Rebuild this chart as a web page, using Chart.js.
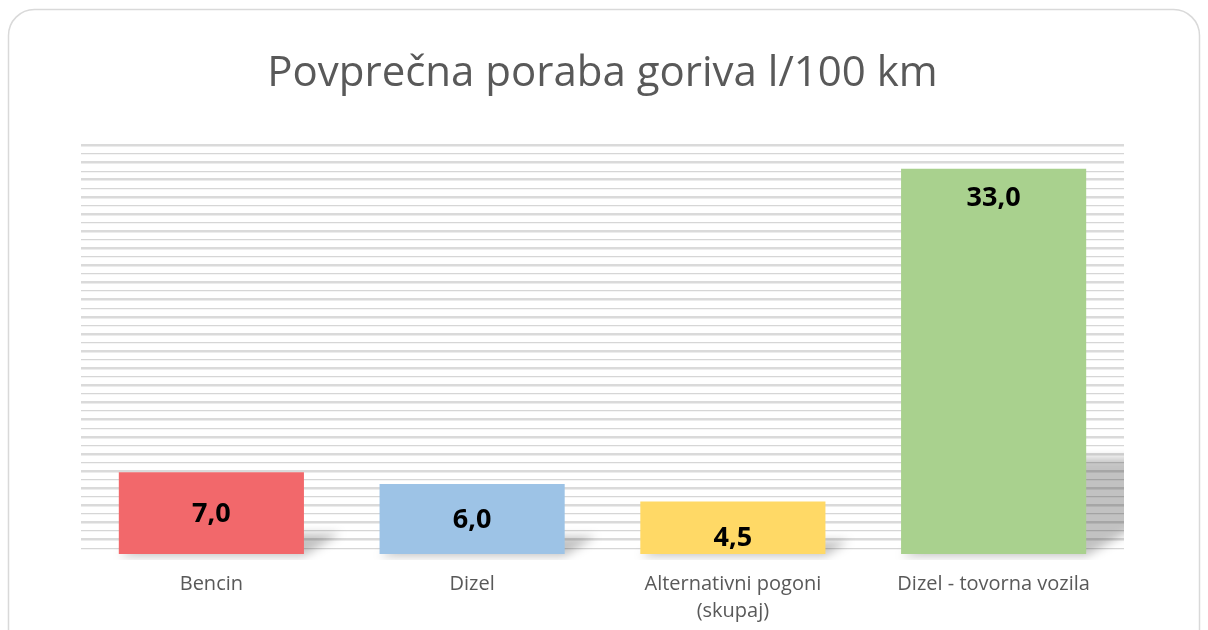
<!DOCTYPE html>
<html>
<head>
<meta charset="utf-8">
<script src="https://cdn.jsdelivr.net/npm/chart.js@4/dist/chart.umd.min.js"></script>
<style>
html,body{margin:0;padding:0;background:#fff;}
#wrap{width:1208px;height:630px;position:relative;}
</style>
</head>
<body>
<div id="wrap"><canvas id="c" width="1208" height="630"></canvas></div>
<script>
const TITLE = 'Povprečna poraba goriva l/100 km';
const categories = ['Bencin', 'Dizel', ['Alternativni pogoni', '(skupaj)'], 'Dizel - tovorna vozila'];
const values = [7.0, 6.0, 4.5, 33.0];
const barColors = ['#F2686B', '#9DC3E6', '#FFD966', '#A9D18E'];
const Y_MIN = 0;
const Y_MAX = 35;
const GRID_LINES = 48;          // decorative striped gridlines
const GRID_BOTTOM_VALUE = 0.5;
const labelOffsets = [42, 36, 37, 30]; // label centre distance below bar top (px)

const fmt = v => v.toFixed(1).replace('.', ',');

const frame = {
  id: 'frame',
  beforeDraw(chart) {
    const ctx = chart.ctx;
    ctx.save();
    ctx.fillStyle = '#fff';
    ctx.fillRect(0, 0, chart.width, chart.height);
    ctx.strokeStyle = '#d9d9d9';
    ctx.lineWidth = 1.5;
    const x = 8.5, y = 9.5, w = 1191, h = 700, r = 26;
    ctx.beginPath();
    ctx.roundRect(x, y, w, h, r);
    ctx.stroke();
    ctx.restore();
  }
};

const shadows = {
  id: 'shadows',
  beforeDatasetsDraw(chart) {
    const ctx = chart.ctx;
    const area = chart.chartArea;
    const meta = chart.getDatasetMeta(0);
    ctx.save();
    ctx.beginPath();
    ctx.rect(area.left, area.top, area.right - area.left, area.bottom - area.top + 6);
    ctx.clip();
    ctx.filter = 'blur(5px)';
    ctx.fillStyle = 'rgba(0,0,0,0.24)';
    meta.data.forEach(bar => {
      const left = bar.x - bar.width / 2, right = bar.x + bar.width / 2;
      const base = bar.base, hgt = (base - bar.y) * 0.25, s = hgt * 1.8;
      ctx.beginPath();
      ctx.moveTo(left, base + 2);
      ctx.lineTo(right, base + 2);
      ctx.lineTo(right + s, base - hgt);
      ctx.lineTo(left + s, base - hgt);
      ctx.closePath();
      ctx.fill();
    });
    ctx.restore();
  }
};

const valueLabels = {
  id: 'valueLabels',
  afterDatasetsDraw(chart) {
    const ctx = chart.ctx;
    const meta = chart.getDatasetMeta(0);
    ctx.save();
    ctx.font = 'bold 27px "Open Sans"';
    ctx.fillStyle = '#000';
    ctx.textAlign = 'center';
    ctx.textBaseline = 'middle';
    meta.data.forEach((bar, i) => {
      ctx.fillText(fmt(values[i]), bar.x, bar.y + labelOffsets[i]);
    });
    ctx.restore();
  }
};

new Chart(document.getElementById('c'), {
  type: 'bar',
  data: {
    labels: categories,
    datasets: [{
      data: values,
      backgroundColor: barColors,
      borderWidth: 0,
      categoryPercentage: 1,
      barPercentage: 0.71
    }]
  },
  options: {
    responsive: false,
    animation: false,
    devicePixelRatio: 1,
    layout: { padding: { left: 81, right: 84, top: 25, bottom: -12 } },
    plugins: {
      legend: { display: false },
      tooltip: { enabled: false },
      title: {
        display: true,
        text: TITLE,
        color: '#595959',
        font: { family: '"Open Sans"', size: 42, weight: 'normal', lineHeight: 1.2 },
        padding: { top: 24, bottom: 46 }
      }
    },
    scales: {
      x: {
        grid: { display: false, drawTicks: false },
        border: { display: false },
        ticks: {
          color: '#595959',
          padding: 17,
          font: { family: '"Open Sans"', size: 20, lineHeight: 1.35 },
          maxRotation: 0, autoSkip: false
        }
      },
      y: {
        min: Y_MIN,
        max: Y_MAX,
        border: { display: false },
        ticks: { display: false },
        afterBuildTicks(scale) {
          const step = (Y_MAX - GRID_BOTTOM_VALUE) / (GRID_LINES - 1);
          const t = [];
          for (let n = 0; n < GRID_LINES; n++) t.push({ value: Y_MAX - n * step });
          scale.ticks = t;
        },
        grid: {
          drawTicks: false,
          color: ctx => (ctx.index % 2 === 0 ? '#dadada' : '#d6d6d6'),
          lineWidth: ctx => (ctx.index % 2 === 0 ? 2.5 : 1.2)
        }
      }
    }
  },
  plugins: [frame, shadows, valueLabels]
});
</script>
</body>
</html>
